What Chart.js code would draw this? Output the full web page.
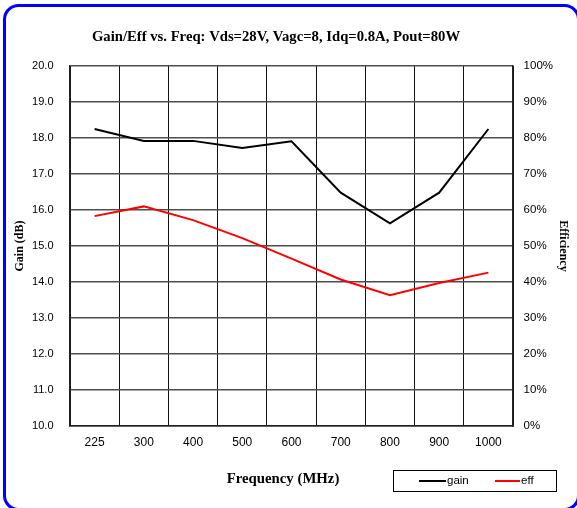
<!DOCTYPE html>
<html><head><meta charset="utf-8">
<script src="https://cdn.jsdelivr.net/npm/chart.js@4.4.1/dist/chart.umd.min.js"></script>
<style>html,body{margin:0;padding:0;background:#fff}#wrap{width:577px;height:508px;position:relative}</style>
</head><body><div id="wrap"><canvas id="c" width="577" height="508"></canvas></div>
<script>
const categories = ['225','300','400','500','600','700','800','900','1000'];
const gainValues = [18.25, 17.92, 17.92, 17.72, 17.91, 16.48, 15.63, 16.48, 18.25];
const effValues = [58.3, 61.0, 57.2, 52.2, 46.5, 40.7, 36.3, 39.7, 42.6];
const seriesNames = ['gain', 'eff'];
const seriesColors = ['#000000', '#ff0000'];
const chartTitle = 'Gain/Eff vs. Freq: Vds=28V, Vagc=8, Idq=0.8A, Pout=80W';
const xTitle = 'Frequency (MHz)';
const yLeftTitle = 'Gain (dB)';
const yRightTitle = 'Efficiency';

const SERIF = "'Liberation Serif', 'Times New Roman', serif";
const SANS = "'Liberation Sans', Arial, sans-serif";

const framePlugin = {
  id: 'frame',
  afterDraw(chart) {
    const ctx = chart.ctx;
    ctx.save();
    ctx.strokeStyle = '#0000ff';
    ctx.lineWidth = 3;
    ctx.beginPath();
    ctx.roundRect(4.5, 5.5, 574, 504, 14);
    ctx.stroke();
    ctx.restore();
  }
};

const textPlugin = {
  id: 'texts',
  afterDraw(chart) {
    const ctx = chart.ctx;
    ctx.save();
    ctx.fillStyle = '#000';
    ctx.textAlign = 'center';
    ctx.textBaseline = 'alphabetic';
    ctx.font = "bold 14.7px " + SERIF;
    ctx.fillText(chartTitle, 276, 41);
    ctx.font = "bold 14.8px " + SERIF;
    ctx.fillText(xTitle, 283, 483);
    ctx.restore();
  }
};

const legendPlugin = {
  id: 'customLegend',
  afterDraw(chart) {
    const ctx = chart.ctx;
    ctx.save();
    ctx.strokeStyle = '#000';
    ctx.lineWidth = 1;
    ctx.strokeRect(393.5, 470.5, 163, 21);
    const items = [
      {x0: 419, x1: 446, tx: 447},
      {x0: 495, x1: 520, tx: 521}
    ];
    ctx.font = "11.5px " + SANS;
    ctx.textBaseline = 'middle';
    ctx.textAlign = 'left';
    chart.data.datasets.forEach((ds, i) => {
      const it = items[i];
      ctx.strokeStyle = ds.borderColor;
      ctx.lineWidth = 2;
      ctx.beginPath();
      ctx.moveTo(it.x0, 481);
      ctx.lineTo(it.x1, 481);
      ctx.stroke();
      ctx.fillStyle = '#000';
      ctx.fillText(ds.label, it.tx, 481);
    });
    ctx.restore();
  }
};

new Chart(document.getElementById('c'), {
  type: 'line',
  data: {
    labels: categories,
    datasets: [
      {label: seriesNames[0], data: gainValues, yAxisID: 'y', borderColor: seriesColors[0], backgroundColor: seriesColors[0], borderWidth: 2, pointRadius: 0, tension: 0, fill: false},
      {label: seriesNames[1], data: effValues, yAxisID: 'y1', borderColor: seriesColors[1], backgroundColor: seriesColors[1], borderWidth: 2, pointRadius: 0, tension: 0, fill: false}
    ]
  },
  options: {
    responsive: false,
    animation: false,
    devicePixelRatio: 1,
    layout: {padding: {top: 66, left: 0, right: 0, bottom: 0}},
    plugins: {legend: {display: false}, title: {display: false}, tooltip: {enabled: false}},
    scales: {
      x: {
        type: 'category',
        offset: true,
        grid: {offset: true, color: '#111', lineWidth: 1, drawTicks: false},
        border: {display: true, color: '#222', width: 1.5},
        ticks: {padding: 9, font: {family: SANS, size: 12}, color: '#000', maxRotation: 0, autoSkip: false},
        afterFit(s) { s.height = 82; }
      },
      y: {
        position: 'left',
        min: 10, max: 20,
        grid: {color: '#4e4e4e', lineWidth: 1.6, drawTicks: false},
        border: {display: true, color: '#222', width: 1.5},
        ticks: {stepSize: 1, padding: 16.5, color: '#000', font: {family: SANS, size: 11}, callback: v => Number(v).toFixed(1)},
        title: {display: true, text: yLeftTitle, color: '#000', font: {family: SERIF, size: 12, weight: 'bold'}, padding: {top: 12.8, bottom: 0}},
        afterFit(s) { s.width = 70; }
      },
      y1: {
        position: 'right',
        min: 0, max: 100,
        grid: {display: false, drawTicks: false},
        border: {display: true, color: '#222', width: 1.5},
        ticks: {stepSize: 10, padding: 10.6, color: '#000', font: {family: SANS, size: 11.5}, callback: v => v + '%'},
        title: {display: true, text: yRightTitle, color: '#000', font: {family: SERIF, size: 12, weight: 'bold'}, padding: {top: 6.3, bottom: 0}},
        afterFit(s) { s.width = 64; }
      }
    }
  },
  plugins: [framePlugin, textPlugin, legendPlugin]
});
</script>
</body></html>
